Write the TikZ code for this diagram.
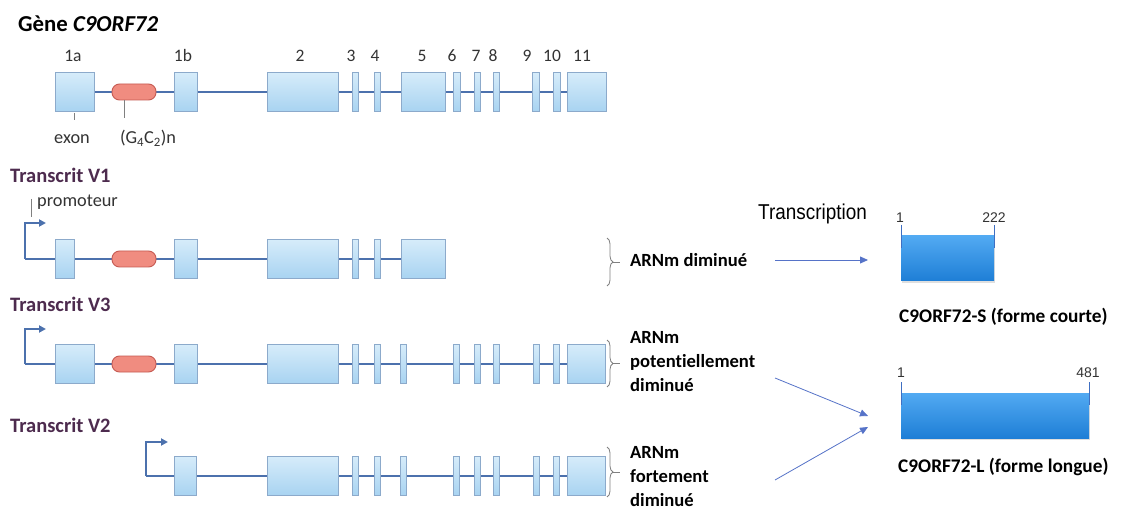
\documentclass[tikz,border=0pt]{standalone}
\usepackage{fontspec}
\setmainfont{Carlito}[Ligatures=NoCommon]
\newfontfamily\narrowfont[FakeStretch=0.88]{Liberation Sans}
\newfontfamily\numfont{Liberation Sans}
\usetikzlibrary{arrows.meta,decorations.pathreplacing,shadows,backgrounds}

\definecolor{backbone}{HTML}{4C71AD}
\definecolor{exonedge}{HTML}{8CAACB}
\definecolor{exontop}{HTML}{D6ECFA}
\definecolor{exonbot}{HTML}{A8D3F1}
\definecolor{repfill}{HTML}{F08C80}
\definecolor{repedge}{HTML}{C65A52}
\definecolor{plum}{HTML}{4D2B4E}
\definecolor{arrowblue}{HTML}{5673C8}
\definecolor{protop}{HTML}{52AAF2}
\definecolor{probot}{HTML}{1E7ED6}
\definecolor{tickblue}{HTML}{3F6FC2}
\definecolor{labelgray}{HTML}{333333}

\tikzset{
  exon/.style={draw=exonedge, line width=0.9pt, top color=exontop, bottom color=exonbot,
    inner sep=0pt, outer sep=0pt, minimum height=39pt},
  repeatbox/.style={draw=repedge, line width=0.9pt, fill=repfill, rounded corners=7.5pt,
    inner sep=0pt, minimum width=44pt, minimum height=16pt},
  spine/.style={draw=backbone, line width=2.7pt},
  promo/.style={draw=backbone, line width=2.2pt, -{Triangle[length=7pt,width=7pt]}},
  pointer/.style={draw=gray, line width=0.8pt},
  exnum/.style={anchor=base, text=labelgray, font=\fontsize{17.5}{20}\selectfont, inner sep=0pt},
  small/.style={anchor=base, text=labelgray, font=\fontsize{18.3}{20}\selectfont, inner sep=0pt},
  variant/.style={anchor=base west, text=plum, font=\fontsize{20.5}{24}\selectfont\bfseries, inner sep=0pt},
  effect/.style={anchor=base west, font=\fontsize{18.6}{22}\selectfont\bfseries, inner sep=0pt},
  protname/.style={anchor=base west, font=\fontsize{19.3}{22}\selectfont\bfseries, inner sep=0pt},
  aanum/.style={anchor=base, text=labelgray, font=\numfont\fontsize{14}{16}\selectfont, inner sep=0pt},
  protein/.style={top color=protop, bottom color=probot, draw=none, inner sep=0pt,
    minimum height=45pt, drop shadow={shadow xshift=0.8pt, shadow yshift=-2pt, opacity=0.25, fill=black!50}},
  aatick/.style={draw=tickblue, line width=1pt},
  bracket/.style={draw=gray, line width=0.8pt, decorate, decoration={brace, amplitude=6pt}},
  flow/.style={draw=arrowblue, line width=0.8pt, -{Triangle[length=8pt,width=7pt]}},
}

\begin{document}
\begin{tikzpicture}[x=1pt, y=-1pt]
\useasboundingbox (0,0) rectangle (1125,513);
\begin{scope}[on background layer]
  \fill[white] (0,0) rectangle (1125,513);
\end{scope}

% ---------- gene ----------
\node[anchor=base west, inner sep=0pt, font=\fontsize{22.8}{26}\selectfont\bfseries] (title) at (18,32) {Gène \textit{C9ORF72}};

\foreach \a/\b [count=\i] in {55/94,174/197,267/338,352/358,374/380,401/445,453/460,474/480,493/499,532/539,553/560,567/606}
  \node[exon, minimum width=\b pt-\a pt] (g-\i) at ({(\a+\b)/2},92) {};
\node[repeatbox] (grep) at (134,92) {};
\begin{scope}[on background layer]
  \draw[spine] (g-1.center) -- (g-12.center);
\end{scope}

\foreach \t/\x in {1a/73,1b/183,2/300,3/351,4/375,5/422,6/452,7/476,8/493,9/527,10/552,11/582}
  \node[exnum] (n-\t) at (\x,62) {\t};

\coordinate (exptA) at (74,113);
\coordinate (exptB) at (74,120);
\draw[pointer] (exptA) -- (exptB);
\coordinate (reptA) at (124,100);
\coordinate (reptB) at (124,118);
\draw[pointer] (reptA) -- (reptB);
\node[small] (exonlbl) at (72,144) {exon};
\node[small] (replbl) at (148,144) {(G\textsubscript{4}C\textsubscript{2})n};

% ---------- transcript V1 ----------
\node[variant] (v1) at (10,183) {Transcrit V1};
\node[anchor=base west, inner sep=0pt, text=labelgray, font=\fontsize{18.3}{20}\selectfont] (promlbl) at (37,207) {promoteur};
\coordinate (promptA) at (31,199);
\coordinate (promptB) at (31,217);
\draw[pointer] (promptA) -- (promptB);

\foreach \a/\b [count=\i] in {55/74,174/197,267/338,352/358,374/380,401/445}
  \node[exon, minimum width=\b pt-\a pt] (a-\i) at ({(\a+\b)/2},259) {};
\node[repeatbox] (arep) at (134,259) {};
\coordinate (p1) at (25,259);
\coordinate (p1up) at (25,223);
\coordinate (p1tip) at (46,223);
\begin{scope}[on background layer]
  \draw[spine] (p1) -- (a-6.center);
\end{scope}
\draw[promo] (p1) -- (p1up) -- (p1tip);

% ---------- transcript V3 ----------
\node[variant] (v3) at (10,312) {Transcrit V3};
\foreach \a/\b [count=\i] in {55/94,174/197,267/338,352/358,374/380,400/406,453/459,474/480,493/499,533/539,553/559,567/605}
  \node[exon, minimum width=\b pt-\a pt] (b-\i) at ({(\a+\b)/2},364) {};
\node[repeatbox] (brep) at (134,364) {};
\coordinate (p3) at (25,364);
\coordinate (p3up) at (25,329);
\coordinate (p3tip) at (46,329);
\begin{scope}[on background layer]
  \draw[spine] (p3) -- (b-12.center);
\end{scope}
\draw[promo] (p3) -- (p3up) -- (p3tip);

% ---------- transcript V2 ----------
\node[variant] (v2) at (10,432) {Transcrit V2};
\foreach \a/\b [count=\i] in {174/196,267/338,352/358,374/380,400/406,453/459,474/480,493/499,533/539,553/559,567/605}
  \node[exon, minimum width=\b pt-\a pt] (c-\i) at ({(\a+\b)/2},476) {};
\coordinate (p2) at (146,476);
\coordinate (p2up) at (146,442);
\coordinate (p2tip) at (168,442);
\begin{scope}[on background layer]
  \draw[spine] (p2) -- (c-11.center);
\end{scope}
\draw[promo] (p2) -- (p2up) -- (p2tip);

% ---------- brackets and mRNA levels ----------
\coordinate (k1a) at (607,238); \coordinate (k1b) at (607,286);
\coordinate (k1m) at (613,262); \coordinate (k1e) at (620,262);
\draw[bracket] (k1a) -- (k1b);
\draw[draw=gray, line width=0.8pt] (k1m) -- (k1e);
\node[effect] (e1) at (630,266) {ARNm diminué};

\coordinate (k3a) at (607,340); \coordinate (k3b) at (607,387);
\coordinate (k3m) at (613,363.5); \coordinate (k3e) at (620,363.5);
\draw[bracket] (k3a) -- (k3b);
\draw[draw=gray, line width=0.8pt] (k3m) -- (k3e);
\node[effect] (e3a) at (630,343) {ARNm};
\node[effect] (e3b) at (630,367) {potentiellement};
\node[effect] (e3c) at (630,391) {diminué};

\coordinate (k2a) at (607,447); \coordinate (k2b) at (607,497);
\coordinate (k2m) at (613,472); \coordinate (k2e) at (620,472);
\draw[bracket] (k2a) -- (k2b);
\draw[draw=gray, line width=0.8pt] (k2m) -- (k2e);
\node[effect] (e2a) at (630,458) {ARNm};
\node[effect] (e2b) at (630,482) {fortement};
\node[effect] (e2c) at (630,506) {diminué};

% ---------- proteins ----------
\node[anchor=base west, inner sep=0pt, font=\narrowfont\fontsize{21.5}{24}\selectfont] (transc) at (758,220) {Transcription};

\node[protein, minimum width=93pt] (protS) at (947.5,258.5) {};
\coordinate (sT1a) at (901,225); \coordinate (sT1b) at (901,248);
\coordinate (sT2a) at (994,225); \coordinate (sT2b) at (994,248);
\draw[aatick] (sT1a) -- (sT1b);
\draw[aatick] (sT2a) -- (sT2b);
\node[aanum] (s1) at (900,223) {1};
\node[aanum] (s222) at (994,223) {222};
\node[protname] (sname) at (899,322) {C9ORF72-S (forme courte)};

\node[protein, minimum width=188pt] (protL) at (995,415.5) {};
\coordinate (lT1a) at (901,382); \coordinate (lT1b) at (901,405);
\coordinate (lT2a) at (1089,382); \coordinate (lT2b) at (1089,405);
\draw[aatick] (lT1a) -- (lT1b);
\draw[aatick] (lT2a) -- (lT2b);
\node[aanum] (l1) at (901,377) {1};
\node[aanum] (l481) at (1088,377) {481};
\node[protname] (lname) at (898,472) {C9ORF72-L (forme longue)};

% ---------- arrows ----------
\coordinate (fS0) at (775,260); \coordinate (fS1) at (868,260);
\draw[flow] (fS0) -- (fS1);
\coordinate (fL30) at (775,378); \coordinate (fL31) at (868,416);
\draw[flow] (fL30) -- (fL31);
\coordinate (fL20) at (775,480); \coordinate (fL21) at (868,427);
\draw[flow] (fL20) -- (fL21);
\end{tikzpicture}
\end{document}
